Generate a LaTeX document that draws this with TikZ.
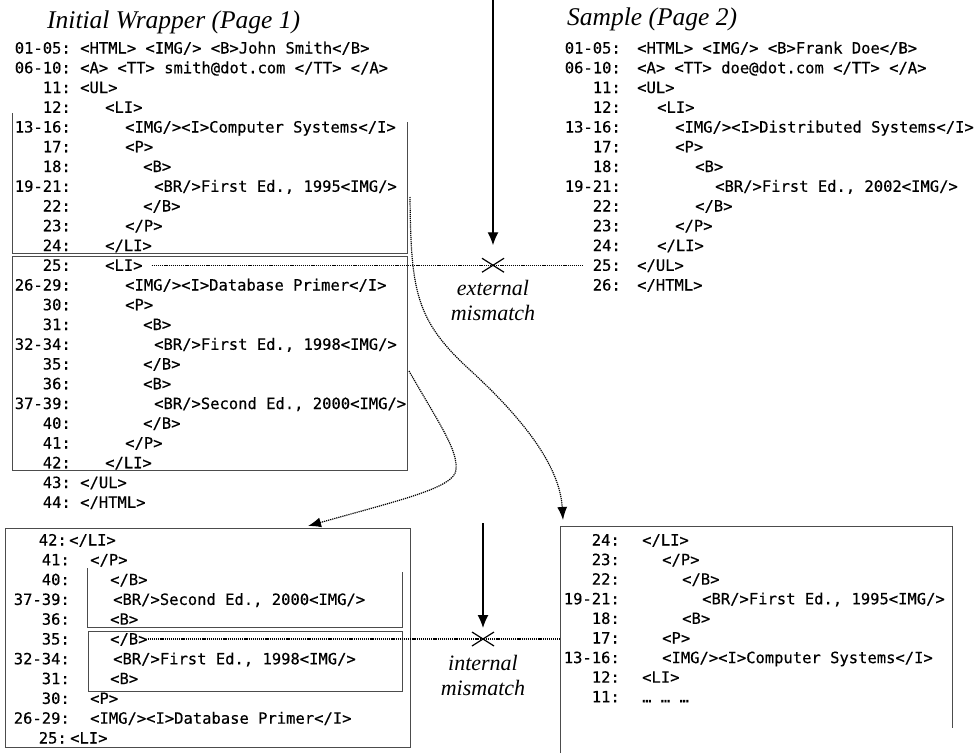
\documentclass[tikz,border=0pt]{standalone}
\usepackage{fontspec}
\setmainfont{Liberation Serif}
\newfontfamily\codefont[FakeBold=0.35]{DejaVu Sans Mono}
\usetikzlibrary{arrows.meta}

\tikzset{
  code/.style={anchor=base west, inner sep=0pt, font=\codefont\fontsize{15.5}{18}\selectfont, text height=11pt, text depth=0pt},
  lab/.style={code, anchor=base east},
  ttl/.style={anchor=base west, inner sep=0pt, font=\itshape\fontsize{25.5}{30}\selectfont},
  mis/.style={anchor=base, inner sep=0pt, font=\itshape\fontsize{22}{26}\selectfont},
  boxline/.style={draw=black!70, line width=1pt},
  dots/.style={line width=1.2pt, dash pattern=on 1.2pt off 0.9pt},
  arr/.style={line width=1.3pt, -{Latex[length=13pt,width=11pt]}},
  darr/.style={dots, -{Latex[length=13pt,width=10pt]}},
  xmark/.style={line width=1.2pt},
}
\newcommand\crow[6]{\node[lab] (#1l) at (#2,#3) {#4}; \node[code] (#1t) at (#5,#3) {#6};}

\begin{document}
\begin{tikzpicture}[x=1pt,y=-1pt]
\path[fill=white,use as bounding box] (0,0) rectangle (975,753);

% titles
\node[ttl] (t1) at (47,28) {Initial Wrapper (Page 1)};
\node[ttl] (t2) at (567,25) {Sample (Page 2)};

% initial wrapper (page 1)
\crow{tl0}{71}{53.5}{01-05:}{80}{<HTML> <IMG/> <B>John Smith</B>}
\crow{tl1}{71}{73.25}{06-10:}{80}{<A> <TT> smith@dot.com </TT> </A>}
\crow{tl2}{71}{93}{11:}{80}{<UL>}
\crow{tl3}{71}{112.75}{12:}{105}{<LI>}
\crow{tl4}{71}{132.5}{13-16:}{125}{<IMG/><I>Computer Systems</I>}
\crow{tl5}{71}{152.25}{17:}{125}{<P>}
\crow{tl6}{71}{172}{18:}{143}{<B>}
\crow{tl7}{71}{191.75}{19-21:}{154}{<BR/>First Ed., 1995<IMG/>}
\crow{tl8}{71}{211.5}{22:}{143}{</B>}
\crow{tl9}{71}{231.25}{23:}{125}{</P>}
\crow{tl10}{71}{251}{24:}{105}{</LI>}
\crow{tl11}{71}{270.75}{25:}{105}{<LI>}
\crow{tl12}{71}{290.5}{26-29:}{125}{<IMG/><I>Database Primer</I>}
\crow{tl13}{71}{310.25}{30:}{125}{<P>}
\crow{tl14}{71}{330}{31:}{143}{<B>}
\crow{tl15}{71}{349.75}{32-34:}{154}{<BR/>First Ed., 1998<IMG/>}
\crow{tl16}{71}{369.5}{35:}{143}{</B>}
\crow{tl17}{71}{389.25}{36:}{143}{<B>}
\crow{tl18}{71}{409}{37-39:}{154}{<BR/>Second Ed., 2000<IMG/>}
\crow{tl19}{71}{428.75}{40:}{143}{</B>}
\crow{tl20}{71}{448.5}{41:}{125}{</P>}
\crow{tl21}{71}{468.25}{42:}{105}{</LI>}
\crow{tl22}{71}{488}{43:}{80}{</UL>}
\crow{tl23}{71}{507.75}{44:}{80}{</HTML>}

% sample (page 2)
\crow{sr0}{621}{53.5}{01-05:}{637}{<HTML> <IMG/> <B>Frank Doe</B>}
\crow{sr1}{621}{73.25}{06-10:}{637}{<A> <TT> doe@dot.com </TT> </A>}
\crow{sr2}{621}{93}{11:}{637}{<UL>}
\crow{sr3}{621}{112.75}{12:}{657}{<LI>}
\crow{sr4}{621}{132.5}{13-16:}{675}{<IMG/><I>Distributed Systems</I>}
\crow{sr5}{621}{152.25}{17:}{675}{<P>}
\crow{sr6}{621}{172}{18:}{695}{<B>}
\crow{sr7}{621}{191.75}{19-21:}{715}{<BR/>First Ed., 2002<IMG/>}
\crow{sr8}{621}{211.5}{22:}{695}{</B>}
\crow{sr9}{621}{231.25}{23:}{675}{</P>}
\crow{sr10}{621}{251}{24:}{657}{</LI>}
\crow{sr11}{621}{270.75}{25:}{637}{</UL>}
\crow{sr12}{621}{290.5}{26:}{637}{</HTML>}

% bottom-left (reversed)
\crow{bl0}{67}{545.5}{42:}{69}{</LI>}
\crow{bl1}{70}{565.3}{41:}{90}{</P>}
\crow{bl2}{70}{585.1}{40:}{110}{</B>}
\crow{bl3}{70}{604.9}{37-39:}{113}{<BR/>Second Ed., 2000<IMG/>}
\crow{bl4}{70}{624.7}{36:}{110}{<B>}
\crow{bl5}{70}{644.5}{35:}{110}{</B>}
\crow{bl6}{70}{664.3}{32-34:}{113}{<BR/>First Ed., 1998<IMG/>}
\crow{bl7}{70}{684.1}{31:}{110}{<B>}
\crow{bl8}{70}{703.9}{30:}{90}{<P>}
\crow{bl9}{70}{723.7}{26-29:}{90}{<IMG/><I>Database Primer</I>}
\crow{bl10}{67}{743.5}{25:}{70}{<LI>}

% bottom-right (reversed)
\crow{br0}{620}{545.5}{24:}{642}{</LI>}
\crow{br1}{620}{565.1}{23:}{662}{</P>}
\crow{br2}{620}{584.7}{22:}{682}{</B>}
\crow{br3}{620}{604.3}{19-21:}{702}{<BR/>First Ed., 1995<IMG/>}
\crow{br4}{620}{623.9}{18:}{682}{<B>}
\crow{br5}{620}{643.5}{17:}{662}{<P>}
\crow{br6}{620}{663.1}{13-16:}{662}{<IMG/><I>Computer Systems</I>}
\crow{br7}{620}{682.7}{12:}{642}{<LI>}
\crow{br8}{620}{702.3}{11:}{642}{… … …}

% boxes
\draw[boxline] (12,113) -- (12,253) -- (407,253) -- (407,122);
\draw[boxline] (12,256) rectangle (407,470);
\draw[boxline] (5,528) rectangle (410,747);
\draw[boxline] (87,568) -- (87,627) -- (402,627) -- (402,572);
\draw[boxline] (88,631) rectangle (402,691);
\coordinate (brTL) at (560,526);
\draw[boxline] (560,753) -- (brTL) -- (952,526) -- (952,728);

% external mismatch
\coordinate (ex) at (493,265.25);
\coordinate (exTop) at (493,0);
\draw[arr] (exTop) -- ([yshift=20pt]ex);
\draw[dots] ([xshift=9pt]tl11t.east) -- ([xshift=-10pt]sr11l.west);
\draw[xmark] ([shift={(-11,-7)}]ex) -- ([shift={(11,7)}]ex) ([shift={(-11,7)}]ex) -- ([shift={(11,-7)}]ex);
\node[mis] (ext1) at (493,295.5) {external};
\node[mis] (ext2) at (493,320.5) {mismatch};

% internal mismatch
\coordinate (ix) at (483,639);
\coordinate (ixTop) at (483,523);
\draw[arr] (ixTop) -- ([yshift=11pt]ix);
\draw[dots] (bl5t.east) -- (bl5t.east -| brTL);
\draw[xmark] ([shift={(-11,-7)}]ix) -- ([shift={(11,7)}]ix) ([shift={(-11,7)}]ix) -- ([shift={(11,-7)}]ix);
\node[mis] (int1) at (483,670) {internal};
\node[mis] (int2) at (483,695) {mismatch};

% curved connectors
\coordinate (c1s) at (410,197);
\draw[darr] (c1s) .. controls (411,290) and (415,320) .. (470,370) .. controls (530,425) and (560,470) .. ([shift={(3,-6)}]brTL);
\coordinate (c2s) at (409,371);
\coordinate (blTop) at (308,528);
\draw[darr] (c2s) .. controls (440,425) and (458,450) .. (456,470) .. controls (454,488) and (400,500) .. ([yshift=2pt]blTop);
\end{tikzpicture}
\end{document}
